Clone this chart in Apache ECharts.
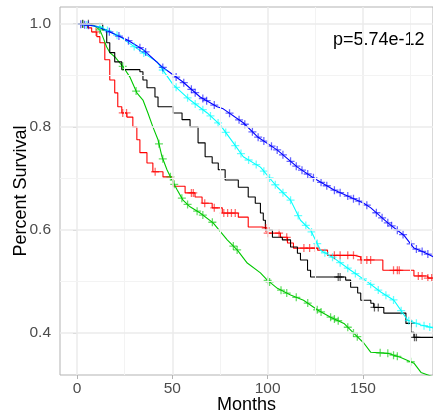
<!DOCTYPE html>
<html><head><meta charset="utf-8">
<script src="https://cdn.jsdelivr.net/npm/echarts@6/dist/echarts.min.js"></script>
<style>html,body{margin:0;padding:0;background:#fff}#c{width:433px;height:419px}</style>
</head><body><div id="c"></div>
<script>
// ---- data (months, survival) ----
const blueMonths = [0,10,17.2,26.2,34.6,45.1,55.6,64.6,73.5,76.7,87.2,94.6,105.1,115.6,124.1,134.6,150.4,154.1,163,171.4,176.7,182,187];
const blueSurv   = [1.0,0.995,0.984,0.969,0.950,0.915,0.887,0.858,0.839,0.835,0.808,0.781,0.755,0.722,0.701,0.678,0.652,0.643,0.614,0.590,0.565,0.557,0.548];
const blueCens   = [2,4,6,17,22,27,33,36,45,52,56,60,62,66,68,72,80,85,88,92,95,98,102,105,108,112,115,118,121,124,128,131,135,138,142,145,148,152,157,160,163,165,168,171,175,178,181,184];

const cyanMonths = [0,12,22.5,34.6,42,50.4,59.3,68.3,75.1,82,87.2,96.2,105.1,112,117.2,122.5,127.7,134.6,143.5,152.5,159.3,166.2,173.5,180.4,187];
const cyanSurv   = [1.0,0.994,0.975,0.944,0.926,0.882,0.852,0.827,0.804,0.769,0.742,0.722,0.683,0.658,0.619,0.600,0.561,0.546,0.522,0.499,0.480,0.464,0.425,0.416,0.410];
const cyanCens   = [5,12,16,21,30,35,45,52,58,62,66,70,74,78,83,86,90,94,98,101,104,108,112,116,120,123,126,130,134,138,142,146,150,154,158,162,166,170,174,178,182,185];

const blackMonths = [0,13.5,15.6,17.2,19.8,23.5,33,34.6,36.7,40.9,42.5,50.4,55.1,59.3,63.5,67.2,70.9,74.1,77.7,84.6,89.8,93.5,96.2,97.7,98.8,102.5,107.7,112,115.6,117.2,120.9,122.5,140.9,143.5,147.2,148.8,154.1,155.6,160.9,172.5,175.1,176.7,187];
const blackSurv   = [1.0,0.988,0.963,0.944,0.926,0.911,0.907,0.891,0.876,0.858,0.839,0.827,0.814,0.800,0.769,0.742,0.730,0.717,0.697,0.683,0.664,0.652,0.633,0.619,0.600,0.586,0.581,0.567,0.555,0.542,0.522,0.509,0.503,0.489,0.478,0.464,0.458,0.450,0.439,0.419,0.402,0.392,0.386];
const blackCens   = [3,6,137,138,156,158,175,177,178];

const redMonths = [0,5.6,7.7,10.4,12,14.6,17.2,19.8,21.4,23.5,26.2,29.3,31.4,33,36.7,39.8,45.1,50.4,56.7,61.9,65.6,70.9,76.2,84.6,89.8,97.2,99.8,106.7,110.4,113.5,126.2,131.4,145.1,148.8,160.4,176.7,184,187];
const redSurv   = [1.0,0.992,0.984,0.975,0.963,0.930,0.891,0.866,0.839,0.827,0.819,0.800,0.775,0.750,0.730,0.713,0.703,0.685,0.672,0.664,0.652,0.643,0.633,0.625,0.606,0.604,0.594,0.586,0.575,0.565,0.561,0.551,0.548,0.542,0.522,0.511,0.507,0.503];
const redCens   = [10,24,26,41,60,61,67,72,77,79,81,83,99,100,106,110,119,122,125,135,138,142,145,149,152,154,166,168,169,179,181,184,186];

const greenMonths = [0,8.3,12,13.5,15.6,17.2,19.8,24.1,27.7,31.4,34.6,37.2,39.8,42.5,44.6,47.2,49.8,52.5,55.6,59.3,64.6,71.4,78.8,84.1,89.3,96.2,99.8,105.1,112,118.8,126.2,133,140,145.1,150.4,154.1,163,169.8,176.7,180.4,187];
const greenSurv   = [1.0,0.998,0.988,0.975,0.955,0.944,0.936,0.917,0.897,0.866,0.852,0.827,0.800,0.775,0.742,0.717,0.697,0.678,0.658,0.645,0.633,0.614,0.581,0.561,0.536,0.517,0.503,0.487,0.474,0.464,0.445,0.431,0.419,0.400,0.381,0.363,0.361,0.353,0.342,0.324,0.315];
const greenCens   = [3,12,24,31,43,45,49,51,55,58,63,66,71,82,84,100,101,107,110,115,121,126,128,133,135,137,142,145,147,159,163,166,168,175,185];

const xTicks = [0,50,100,150];
const xMinor = [25,75,125,175];
const yTicks = [0.4,0.6,0.8,1.0];
const yMinor = [0.5,0.7,0.9];
const pText = 'p=5.74e-12';

// ---- helpers ----
function pairs(m, s){ return m.map((v,i)=>[v, s[i]]); }
function valueAt(m, s, t, step){
  let i = 0;
  while (i < m.length - 1 && m[i+1] <= t) i++;
  if (step || i >= m.length - 1) return s[i];
  const f = (t - m[i]) / (m[i+1] - m[i]);
  return s[i] + f * (s[i+1] - s[i]);
}
const plusPath = 'path://M4.2,0H5.8V4.2H10V5.8H5.8V10H4.2V5.8H0V4.2H4.2Z';
const FONT = 'Liberation Sans, Arial, sans-serif';

const groups = [
  {name:'red', m:redMonths, s:redSurv, c:redCens, color:'#FF0000', step:true},
  {name:'green', m:greenMonths, s:greenSurv, c:greenCens, color:'#00C800', step:false},
  {name:'black', m:blackMonths, s:blackSurv, c:blackCens, color:'#000000', step:true},
  {name:'cyan', m:cyanMonths, s:cyanSurv, c:cyanCens, color:'#00FFFF', step:false},
  {name:'blue', m:blueMonths, s:blueSurv, c:blueCens, color:'#0000FF', step:false}
];

const series = [];
const gridLines = [];
xTicks.forEach(v=>gridLines.push({xAxis:v, lineStyle:{color:'#EBEBEB', width:1.5, type:'solid'}}));
xMinor.forEach(v=>gridLines.push({xAxis:v, lineStyle:{color:'#F3F3F3', width:1, type:'solid'}}));
yTicks.forEach(v=>gridLines.push({yAxis:v, lineStyle:{color:'#EBEBEB', width:1.5, type:'solid'}}));
yMinor.forEach(v=>gridLines.push({yAxis:v, lineStyle:{color:'#F3F3F3', width:1, type:'solid'}}));
series.push({
  type:'line', data:[[-100,-100]], showSymbol:false, lineStyle:{opacity:0}, z:0, silent:true,
  markLine:{silent:true, symbol:'none', label:{show:false}, animation:false, data:gridLines}
});

groups.forEach(g=>{
  series.push({
    name:g.name, type:'line', data:pairs(g.m, g.s), step:g.step ? 'end' : false,
    showSymbol:false, symbol:'none', lineStyle:{color:g.color, width:1.1}, z:3, clip:true
  });
  series.push({
    name:g.name+'-cens', type:'scatter', symbol:plusPath, symbolSize:8,
    data:g.c.map(t=>[t, valueAt(g.m, g.s, t, g.step)]),
    itemStyle:{color:g.color, opacity:0.6}, z:4
  });
});

const chart = echarts.init(document.getElementById('c'), null, {renderer:'canvas'});
chart.setOption({
  animation:false,
  backgroundColor:'#ffffff',
  textStyle:{fontFamily:FONT},
  grid:{left:60, right:0, top:7, bottom:44, containLabel:false, outerBoundsMode:'none',
        show:true, borderColor:'#B3B3B3', borderWidth:1, backgroundColor:'transparent'},
  xAxis:{
    type:'value', min:-8.9, max:186.7,
    splitLine:{show:false}, axisLine:{show:false},
    axisTick:{show:true, customValues:xTicks, length:4, lineStyle:{color:'#B3B3B3'}},
    axisLabel:{customValues:xTicks, color:'#4D4D4D', fontSize:15.5, margin:6, fontFamily:FONT},
    name:'Months', nameLocation:'middle', nameGap:21, nameMoveOverlap:false,
    nameTextStyle:{fontSize:18, color:'#000', fontFamily:FONT}
  },
  yAxis:{
    type:'value', min:0.319, max:1.0324,
    splitLine:{show:false}, axisLine:{show:false},
    axisTick:{show:true, customValues:yTicks, length:4, lineStyle:{color:'#B3B3B3'}},
    axisLabel:{customValues:yTicks, color:'#4D4D4D', fontSize:15.5, margin:9, fontFamily:FONT, formatter:v=>v.toFixed(1)},
    name:'Percent Survival', nameLocation:'middle', nameGap:30, nameMoveOverlap:false,
    nameTextStyle:{fontSize:18, color:'#000', fontFamily:FONT}
  },
  graphic:[{type:'text', left:333, top:31, style:{text:pText, fontSize:18, fill:'#000', fontFamily:FONT}}],
  series:series
});
</script></body></html>
